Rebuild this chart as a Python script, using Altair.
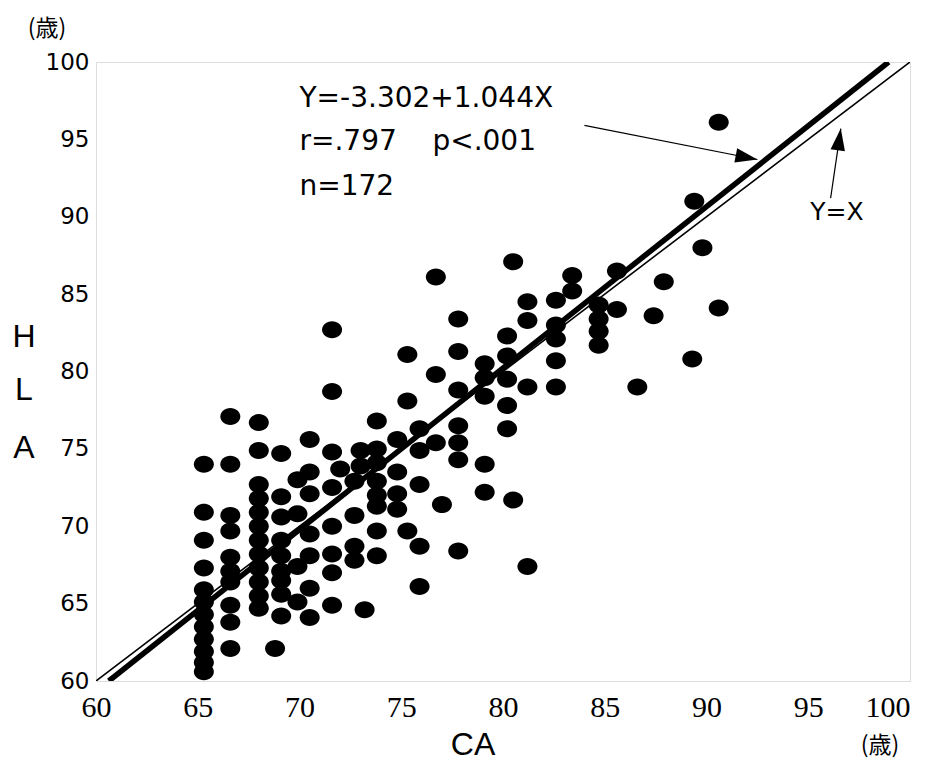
import altair as alt
import pandas as pd

# CA (x) ages of each column of dots and the HLA (y) values observed in that column
col_ca = [65.3, 66.6, 68.0, 68.8, 69.1, 69.9, 70.5, 71.6, 72.0, 72.7, 73.0, 73.2,
          73.8, 74.8, 75.3, 75.9, 76.7, 77.0, 77.8, 79.1, 80.2, 80.5, 81.2, 82.6,
          83.4, 84.7, 85.6, 86.6, 87.4, 87.9, 89.3, 89.4, 89.8, 90.6]
col_hla = [
    [74.0, 70.9, 69.1, 67.3, 65.9, 65.1, 64.3, 63.5, 62.7, 61.9, 61.2, 60.6],
    [77.1, 74.0, 70.7, 69.7, 68.0, 67.1, 66.4, 64.9, 63.8, 62.1],
    [76.7, 74.9, 72.7, 71.8, 70.9, 70.0, 69.1, 68.2, 67.3, 66.4, 65.5, 64.7],
    [62.1],
    [74.7, 71.9, 70.6, 69.1, 68.1, 67.1, 66.5, 65.6, 64.2],
    [73.0, 70.8, 67.4, 65.1],
    [75.6, 73.5, 72.1, 69.5, 68.1, 66.0, 64.1],
    [82.7, 78.7, 74.8, 72.5, 70.0, 68.2, 67.0, 64.9],
    [73.7],
    [72.9, 70.7, 68.7, 67.8],
    [74.9, 73.9],
    [64.6],
    [76.8, 75.0, 74.1, 72.9, 72.0, 71.3, 69.7, 68.1],
    [75.6, 73.5, 72.1, 71.1],
    [81.1, 78.1, 69.7],
    [76.3, 74.9, 72.7, 68.7, 66.1],
    [86.1, 79.8, 75.4],
    [71.4],
    [83.4, 81.3, 78.8, 76.5, 75.4, 74.3, 68.4],
    [80.5, 79.6, 78.4, 74.0, 72.2],
    [82.3, 81.0, 79.5, 77.8, 76.3],
    [87.1, 71.7],
    [84.5, 83.3, 79.0, 67.4],
    [84.6, 83.0, 82.1, 80.7, 79.0],
    [86.2, 85.2],
    [84.3, 83.4, 82.6, 81.7],
    [86.5, 84.0],
    [79.0],
    [83.6],
    [85.8],
    [80.8],
    [91.0],
    [88.0],
    [96.1, 84.1],
]

# regression line Y=-3.302+1.044X clipped to the frame, and the identity line Y=X
reg_x = [60.63, 98.95]
reg_y = [60.0, 100.0]
id_x = [60.0, 100.0]
id_y = [60.0, 100.0]

axis_ticks = [60, 65, 70, 75, 80, 85, 90, 95, 100]

# annotation texts
eq_lines = ["Y=-3.302+1.044X", "r=.797\u00a0\u00a0\u00a0\u00a0p<.001", "n=172"]
eq_y = [97.6, 94.8, 91.9]
eq_x = [70.0, 70.0, 70.0]
idlab_text = ["Y=X"]
idlab_x = [95.1]
idlab_y = [90.3]

# arrows: start point, tip point
arrow_x = [84.0, 92.5]
arrow_y = [95.9, 93.7]
arrow2_x = [96.1, 96.6]
arrow2_y = [91.2, 95.7]
head_x = [92.5, 96.6]
head_y = [93.7, 95.7]
head_angle = [101, 8]

rows = []
for a, vals in zip(col_ca, col_hla):
    for v in vals:
        rows.append({"CA": a, "HLA": v})
pts = pd.DataFrame(rows)

xs = alt.Scale(domain=[60, 100], nice=False, zero=False)
ys = alt.Scale(domain=[60, 100], nice=False, zero=False)

xaxis = alt.Axis(values=axis_ticks, title=None, grid=False, ticks=False, domain=False,
                 labelFont="Liberation Serif", labelFontSize=30, labelColor="black",
                 labelPadding=11, labelFlush=False,
                 labelAlign={"condition": {"test": "datum.value == 100", "value": "right"},
                             "value": "center"})
yaxis = alt.Axis(values=axis_ticks, title=None, grid=False, ticks=False, domain=False,
                 labelFont="DejaVu Sans", labelFontSize=23, labelColor="black",
                 labelPadding=7)

ellipse = "M-1,0 A1,0.85 0 1,0 1,0 A1,0.85 0 1,0 -1,0 Z"
points = alt.Chart(pts).mark_point(shape=ellipse, filled=True, color="black",
                                   opacity=1, size=400).encode(
    x=alt.X("CA:Q", scale=xs, axis=xaxis),
    y=alt.Y("HLA:Q", scale=ys, axis=yaxis),
)

reg = alt.Chart(pd.DataFrame({"x": reg_x, "y": reg_y})).mark_line(
    color="black", strokeWidth=5.5, clip=True).encode(
    x=alt.X("x:Q", scale=xs), y=alt.Y("y:Q", scale=ys))
ident = alt.Chart(pd.DataFrame({"x": id_x, "y": id_y})).mark_line(
    color="black", strokeWidth=1.6, clip=True).encode(
    x=alt.X("x:Q", scale=xs), y=alt.Y("y:Q", scale=ys))

arr1 = alt.Chart(pd.DataFrame({"x": arrow_x, "y": arrow_y})).mark_line(
    color="black", strokeWidth=1.2).encode(
    x=alt.X("x:Q", scale=xs), y=alt.Y("y:Q", scale=ys))
arr2 = alt.Chart(pd.DataFrame({"x": arrow2_x, "y": arrow2_y})).mark_line(
    color="black", strokeWidth=1.2).encode(
    x=alt.X("x:Q", scale=xs), y=alt.Y("y:Q", scale=ys))
heads = alt.Chart(pd.DataFrame({"x": head_x, "y": head_y, "a": head_angle})).mark_point(
    shape="M0,0 L0.33,1 L-0.33,1 Z", filled=True, color="black", opacity=1,
    size=1936).encode(
    x=alt.X("x:Q", scale=xs), y=alt.Y("y:Q", scale=ys),
    angle=alt.Angle("a:Q", scale=None))

eq = alt.Chart(pd.DataFrame({"x": eq_x, "y": eq_y, "t": eq_lines})).mark_text(
    align="left", baseline="middle", font="DejaVu Sans", fontSize=28,
    color="black").encode(
    x=alt.X("x:Q", scale=xs), y=alt.Y("y:Q", scale=ys), text="t:N")
idlab = alt.Chart(pd.DataFrame({"x": idlab_x, "y": idlab_y, "t": idlab_text})).mark_text(
    align="left", baseline="middle", font="DejaVu Sans", fontSize=25,
    color="black").encode(
    x=alt.X("x:Q", scale=xs), y=alt.Y("y:Q", scale=ys), text="t:N")

# axis titles and unit marks placed around the frame
ttl_text = ["(歳)", "H", "L", "A", "CA", "(歳)"]
ttl_px = [-49, -72, -72, -72, 377, 784]
ttl_py = [-33, 275, 328, 386, 683, 684]
titles = []
for t, px, py in zip(ttl_text, ttl_px, ttl_py):
    cjk = "歳" in t
    titles.append(
        alt.Chart(pd.DataFrame({"t": [t]})).mark_text(
            align="center", baseline="middle",
            font="Noto Sans CJK JP" if cjk else "Liberation Sans",
            fontSize=23 if cjk else 32, color="black").encode(
            x=alt.value(px), y=alt.value(py), text="t:N"))

chart = alt.layer(points, ident, reg, arr1, arr2, heads, eq, idlab, *titles).properties(
    width=814, height=619,
    autosize=alt.AutoSizeParams(type="none"),
    padding={"left": 88, "top": 54, "right": 13, "bottom": 85},
).configure_view(stroke="black", strokeWidth=2.5).configure(background="white")

chart.save("out.html", embed_options={"renderer": "svg", "actions": False})
